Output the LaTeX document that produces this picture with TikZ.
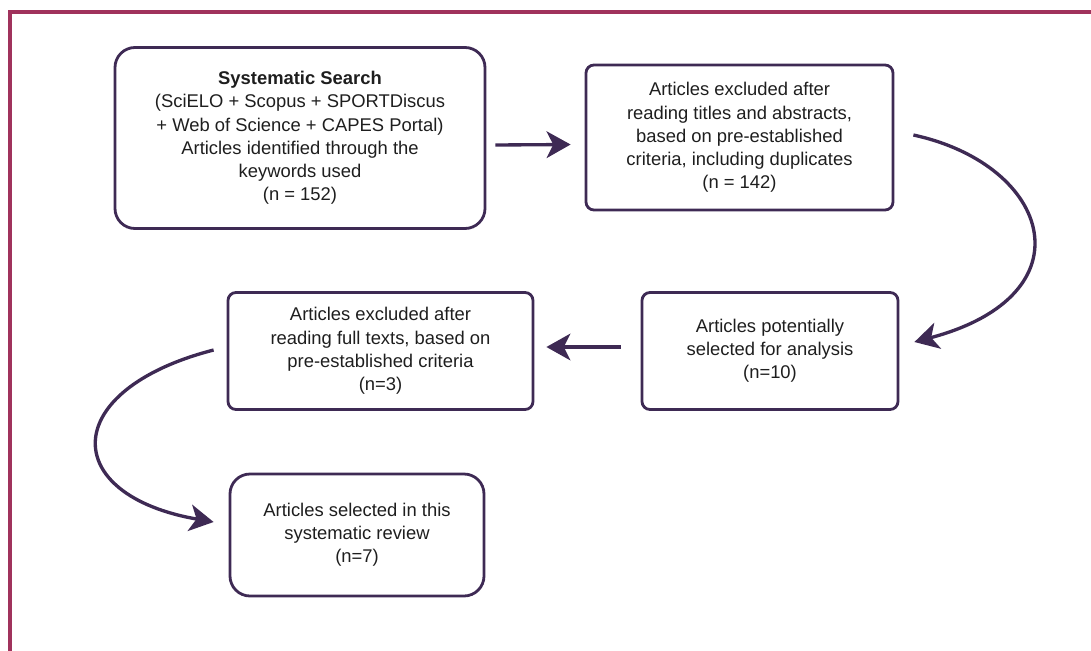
\documentclass[tikz,border=0pt]{standalone}
\usepackage{fontspec}
\setmainfont{Liberation Sans}
\usetikzlibrary{arrows.meta}
\definecolor{framec}{RGB}{160,50,92}
\definecolor{purp}{RGB}{62,42,84}
\definecolor{txt}{RGB}{30,30,30}
\begin{document}
\begin{tikzpicture}[x=0.75pt,y=-0.75pt,
  box/.style={draw=purp,line width=2.1pt,inner sep=0pt,align=center,text=txt,
    font=\fontsize{13.8}{17.4}\selectfont},
  bigr/.style={rounded corners=15pt},
  smallr/.style={rounded corners=6pt},
  conn/.style={draw=purp,line width=2.5pt,-{Stealth[length=18pt,width=20pt,inset=5pt]}}]
\useasboundingbox (0,0) rectangle (1091,650);
\begin{scope}
\clip (0,0) rectangle (1091,650);
\draw[framec,line width=2.4pt] (10,12) rectangle (1120,680);
\end{scope}
\node[box,bigr,minimum width=277.5pt,minimum height=135.75pt] (b1) at (300,138)
  {\textbf{Systematic Search}\\(SciELO + Scopus + SPORTDiscus\\+ Web of Science + CAPES Portal)\\Articles identified through the\\keywords used\\(n = 152)};
\node[box,smallr,minimum width=230.25pt,minimum height=108.75pt] (b2) at (739.5,137.5)
  {Articles excluded after\\reading titles and abstracts,\\based on pre-established\\criteria, including duplicates\\(n = 142)};
\node[box,smallr,minimum width=192pt,minimum height=87.75pt] (b3) at (770,351)
  {Articles potentially\\selected for analysis\\(n=10)};
\node[box,smallr,minimum width=228.75pt,minimum height=87.75pt] (b4) at (380.5,351)
  {Articles excluded after\\reading full texts, based on\\pre-established criteria\\(n=3)};
\node[box,bigr,minimum width=190.5pt,minimum height=91.5pt] (b5) at (357,535)
  {Articles selected in this\\systematic review\\(n=7)};
\draw[conn] ([shift={(9,7)}]b1.east) -- ([shift={(-14,7)}]b2.west);
\draw[conn] ([shift={(19,-2.5)}]b2.east) .. controls +(138,30) and +(177,-47) .. ([shift={(15,-9)}]b3.east);
\draw[conn] ([shift={(-20,-4)}]b3.west) -- ([shift={(12,-4)}]b4.east);
\draw[conn] ([shift={(-13,-1)}]b4.west) .. controls +(-155,40) and +(-155,-27) .. ([shift={(-15,-13)}]b5.west);
\end{tikzpicture}
\end{document}
